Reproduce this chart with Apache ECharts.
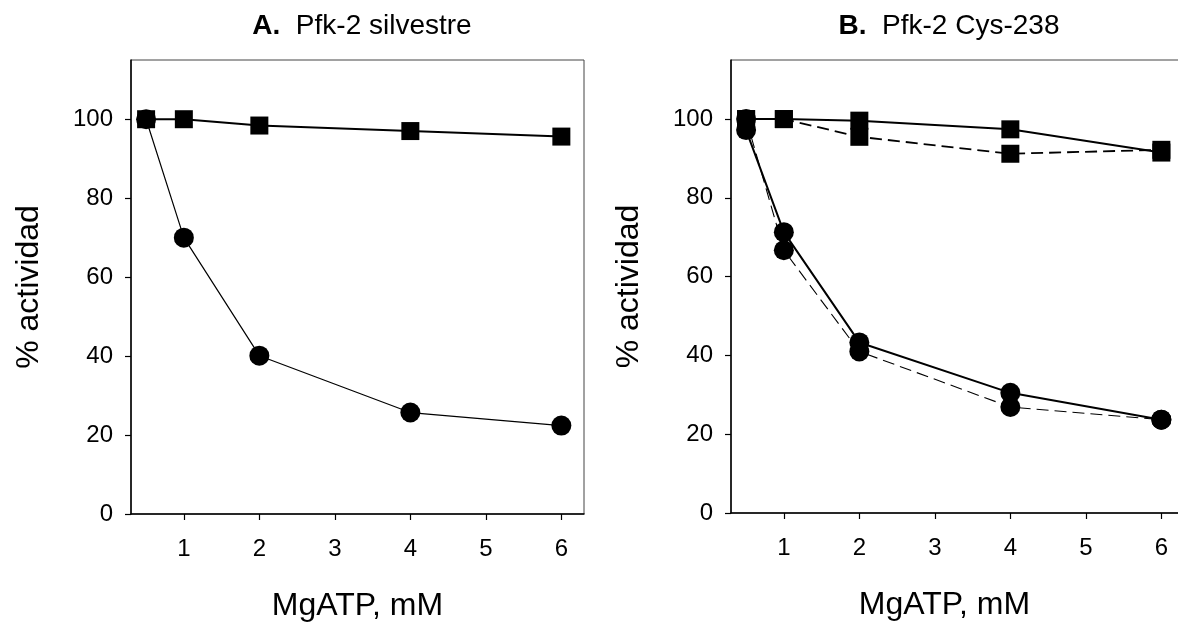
<!DOCTYPE html>
<html>
<head>
<meta charset="utf-8">
<script src="https://cdn.jsdelivr.net/npm/echarts@6/dist/echarts.min.js"></script>
<style>html,body{margin:0;padding:0;background:#fff}#c{width:1178px;height:625px}</style>
</head>
<body>
<div id="c"></div>
<script>
// Data
const xA = [0.5, 1, 2, 4, 6];
const aSquares = [100, 100, 98.4, 97.0, 95.6];
const aCircles = [100, 70.0, 40.1, 25.7, 22.4];

const xB = [0.5, 1, 2, 4, 6];
const bSquaresSolid = [100, 100, 99.6, 97.4, 91.5];
const bSquaresDashed = [100, 100, 95.5, 91.2, 92.2];
const bCirclesSolid = [97.2, 71.3, 43.3, 30.5, 23.7];
const bCirclesDashed = [100, 66.7, 41.0, 26.9, 23.7];

const xTicks = [1, 2, 3, 4, 5, 6];
const yTicks = [0, 20, 40, 60, 80, 100];
const titleA = 'Pfk-2 silvestre';
const titleB = 'Pfk-2 Cys-238';
const xName = 'MgATP, mM';
const yName = '% actividad';

const pairs = (xs, ys) => xs.map((x, i) => [x, ys[i]]);
const FONT = 'Liberation Sans, Arial, sans-serif';

function xAxis(gi, padRight) {
  return {
    type: 'value', gridIndex: gi, min: 0.3, max: 6.3,
    name: xName, nameLocation: 'middle', nameGap: 76,
    nameTextStyle: { fontFamily: FONT, fontSize: 32, color: '#000', padding: [0, padRight, 0, 0] },
    axisLine: { onZero: false, lineStyle: { color: '#000', width: 1.5 } },
    axisTick: { show: true, inside: false, length: 6, customValues: xTicks, lineStyle: { color: '#000', width: 1.2 } },
    axisLabel: { customValues: xTicks, margin: 23, fontFamily: FONT, fontSize: 24, color: '#000' },
    splitLine: { show: false }
  };
}
function yAxis(gi) {
  return {
    type: 'value', gridIndex: gi, min: 0, max: 115,
    name: yName, nameLocation: 'middle', nameGap: 86, nameRotate: 90,
    nameTextStyle: { fontFamily: FONT, fontSize: 32, color: '#000' },
    axisLine: { lineStyle: { color: '#000', width: 1.5 } },
    axisTick: { show: true, inside: false, length: 6, customValues: yTicks, lineStyle: { color: '#000', width: 1.2 } },
    axisLabel: { customValues: yTicks, margin: 18, fontFamily: FONT, fontSize: 24, color: '#000' },
    splitLine: { show: false }
  };
}
function line(gi, data, symbol, size, width, type) {
  return {
    type: 'line', xAxisIndex: gi, yAxisIndex: gi, data: data,
    symbol: symbol, symbolSize: size, showSymbol: true,
    itemStyle: { color: '#000' },
    lineStyle: { color: '#000', width: width, type: type },
    animation: false, silent: true
  };
}

const chart = echarts.init(document.getElementById('c'), null, { renderer: 'canvas' });
chart.setOption({
  backgroundColor: '#fff',
  animation: false,
  title: [
    { text: '{b|A.}  ' + titleA, left: 357, top: 7, textAlign: 'center',
      textStyle: { fontFamily: FONT, fontSize: 28, fontWeight: 'normal', color: '#000',
        rich: { b: { fontFamily: FONT, fontSize: 28, fontWeight: 'bold', color: '#000' } } } },
    { text: '{b|B.}  ' + titleB, left: 944, top: 7, textAlign: 'center',
      textStyle: { fontFamily: FONT, fontSize: 28, fontWeight: 'normal', color: '#000',
        rich: { b: { fontFamily: FONT, fontSize: 28, fontWeight: 'bold', color: '#000' } } } }
  ],
  grid: [
    { left: 131, top: 60, width: 453, bottom: 111, outerBoundsMode: 'none', containLabel: false, show: true, borderColor: '#444', borderWidth: 1, backgroundColor: 'transparent' },
    { left: 731, top: 60, width: 453, bottom: 112, outerBoundsMode: 'none', containLabel: false, show: true, borderColor: '#444', borderWidth: 1, backgroundColor: 'transparent' }
  ],
  xAxis: [xAxis(0, 0), xAxis(1, 26)],
  yAxis: [yAxis(0), yAxis(1)],
  series: [
    line(0, pairs(xA, aSquares), 'rect', 18, 2, 'solid'),
    line(0, pairs(xA, aCircles), 'circle', 20, 1.2, 'solid'),
    line(1, pairs(xB, bSquaresSolid), 'rect', 18, 2, 'solid'),
    line(1, pairs(xB, bSquaresDashed), 'rect', 18, 1.8, [12, 6]),
    line(1, pairs(xB, bCirclesSolid), 'circle', 20, 2, 'solid'),
    line(1, pairs(xB, bCirclesDashed), 'circle', 20, 1.1, [12, 6])
  ]
});
</script>
</body>
</html>
